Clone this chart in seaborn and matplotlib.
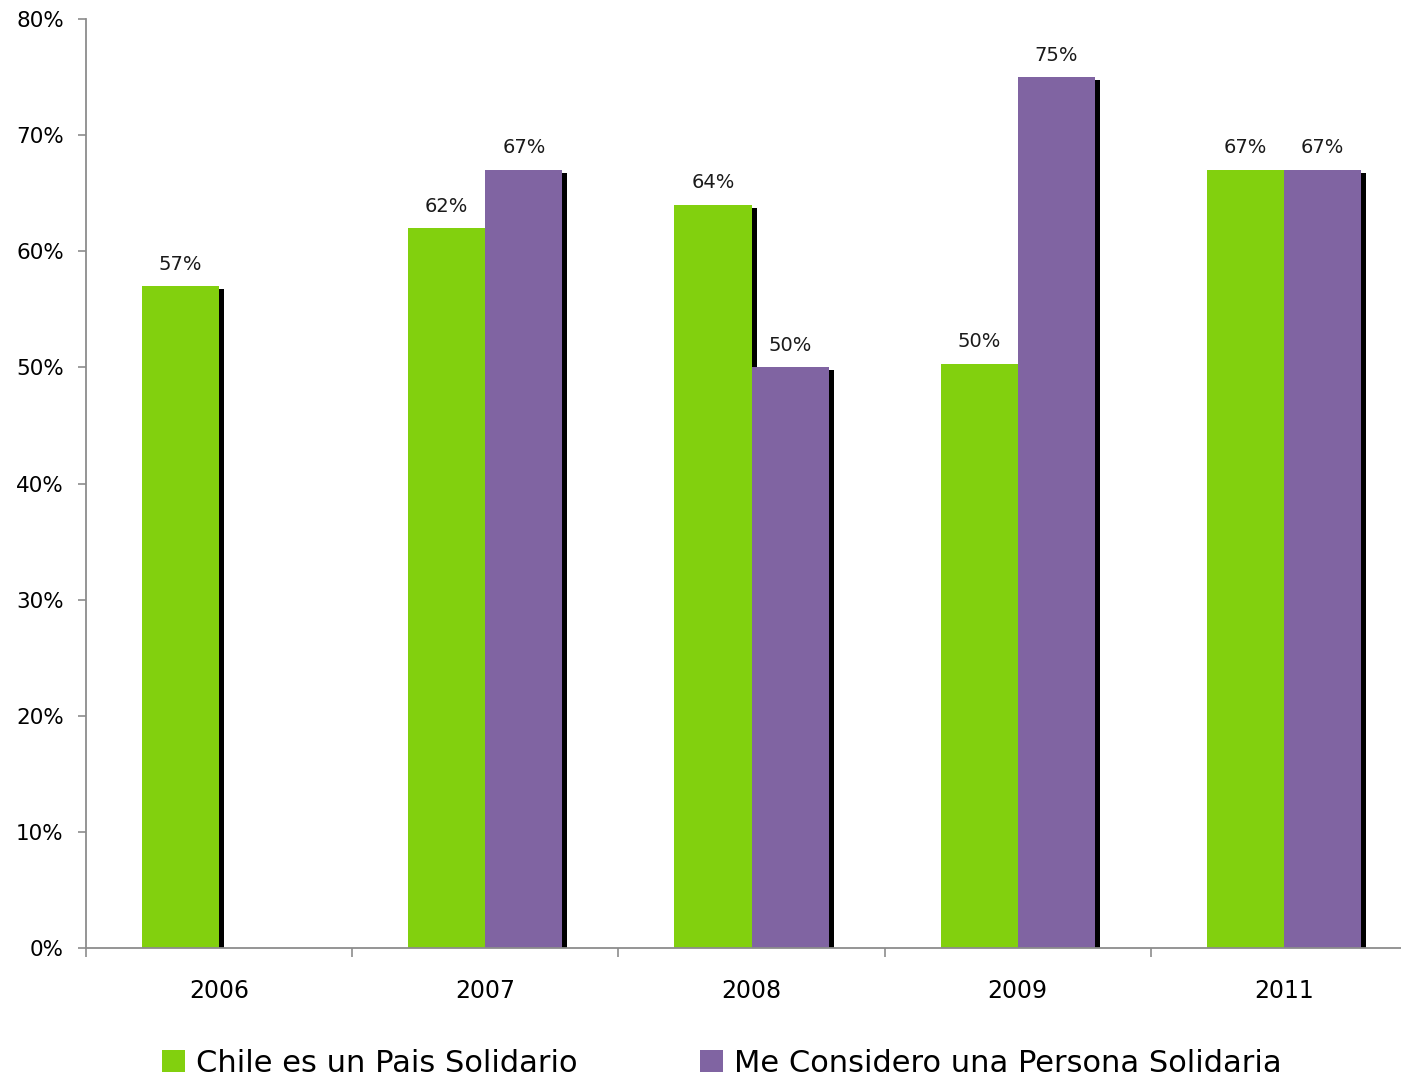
"""
Chile solidaridad: percepción país vs. persona (2006-2011)
Grouped bar chart with drop shadows
"""

import numpy as np
import pandas as pd
import matplotlib
matplotlib.use("Agg")
import matplotlib.pyplot as plt
import matplotlib.transforms as mtrans
from matplotlib.patches import Rectangle, Patch
from matplotlib.ticker import FuncFormatter, FixedLocator
import seaborn as sns

# Data
YEARS   = ["2006", "2007", "2008", "2009", "2011"]
SERIES  = ["Chile es un Pais Solidario", "Me Considero una Persona Solidaria"]
PAIS    = [57, 62, 64, 50.3, 67]
PERSONA = [np.nan, 67, 50, 75, 67]
Y_TICKS = [0, 10, 20, 30, 40, 50, 60, 70, 80]

GREEN  = "#82D00E"
PURPLE = "#8064A2"
AXIS_GRAY = "#8C8C8C"

df = pd.DataFrame({
    "year":  YEARS * 2,
    "serie": [SERIES[0]] * len(YEARS) + [SERIES[1]] * len(YEARS),
    "value": PAIS + PERSONA,
})

sns.set_theme(style="white")
plt.rcParams["font.family"] = ["DejaVu Sans"]
plt.rcParams["text.color"] = "black"

fig = plt.figure(figsize=(14.01, 10.81), dpi=100)
ax = fig.add_axes([86 / 1401, 1 - 948 / 1081, (1417 - 86) / 1401, (948 - 19) / 1081])

sns.barplot(data=df, x="year", y="value", hue="serie", order=YEARS,
            hue_order=SERIES, palette=[GREEN, PURPLE], width=0.58,
            saturation=1, ax=ax, legend=False, zorder=2)

# drop shadows (offset right / down), drawn behind every bar
shadow_off = mtrans.ScaledTranslation(5 / 100, -3 / 100, fig.dpi_scale_trans)
for bar in list(ax.patches):
    h = bar.get_height()
    if not np.isfinite(h) or h <= 0:
        continue
    sh = Rectangle((bar.get_x(), 0), bar.get_width(), h,
                   facecolor="black", edgecolor="none",
                   transform=ax.transData + shadow_off, zorder=1)
    ax.add_patch(sh)
    sh.set_clip_path(ax.patch)
    bar.set_edgecolor("none")

# value labels
for cont in ax.containers:
    labels = ["" if not np.isfinite(v) else f"{v:.0f}%" for v in cont.datavalues]
    ax.bar_label(cont, labels=labels, padding=9, fontsize=14, color="#1a1a1a")

ax.set_ylim(0, 80)
ax.set_xlim(-0.5, 4.5)
ax.yaxis.set_major_locator(FixedLocator(Y_TICKS))
ax.yaxis.set_major_formatter(FuncFormatter(lambda v, _: f"{v:.0f}%"))
ax.set_xlabel("")
ax.set_ylabel("")

for s in ["top", "right"]:
    ax.spines[s].set_visible(False)
for s in ["left", "bottom"]:
    ax.spines[s].set_color(AXIS_GRAY)
    ax.spines[s].set_linewidth(1.3)

ax.tick_params(axis="y", which="major", left=True, length=6, width=1.2,
               color=AXIS_GRAY, pad=10, labelsize=15.5, labelcolor="black")
ax.tick_params(axis="x", which="major", bottom=True, length=0, pad=22,
               labelsize=17, labelcolor="black")
ax.set_xticks(np.arange(-0.5, 5.0, 1.0), minor=True)
ax.tick_params(axis="x", which="minor", bottom=True, length=6.5, width=1.2,
               color=AXIS_GRAY)

handles = [Patch(facecolor=GREEN, edgecolor="none"),
           Patch(facecolor=PURPLE, edgecolor="none")]
fig.legend(handles, SERIES, loc="center", bbox_to_anchor=(722 / 1401, 1 - 1063 / 1081),
           ncol=2, frameon=False, fontsize=22, handlelength=0.75,
           handleheight=0.75, handletextpad=0.36, columnspacing=4.0,
           labelcolor="black")

fig.savefig("out.png", dpi=100)
